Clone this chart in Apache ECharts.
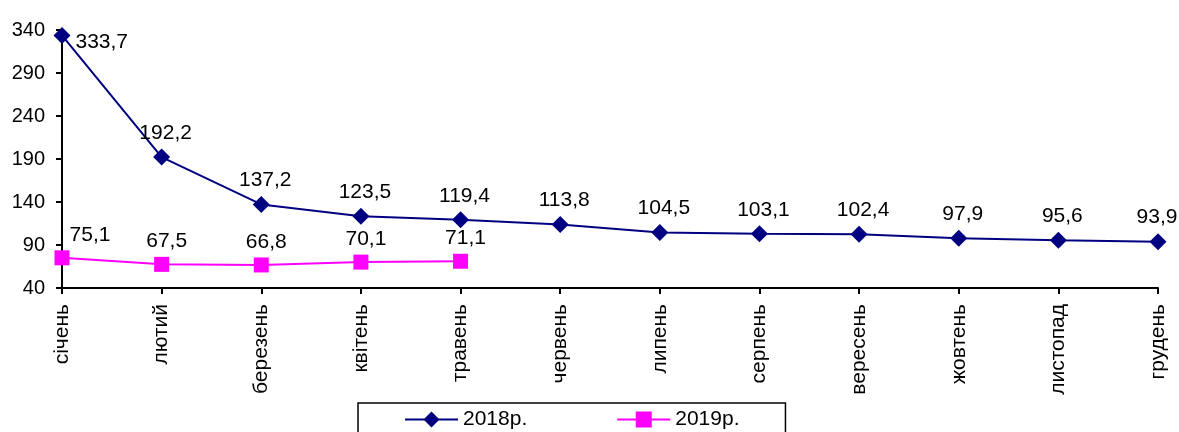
<!DOCTYPE html>
<html>
<head>
<meta charset="utf-8">
<script src="https://cdn.jsdelivr.net/npm/echarts@6/dist/echarts.min.js"></script>
<style>
  html, body { margin: 0; padding: 0; background: #fff; }
  #chart { width: 1179px; height: 432px; }
</style>
</head>
<body>
<div id="chart"></div>
<script>
const months = ["січень", "лютий", "березень", "квітень", "травень", "червень",
  "липень", "серпень", "вересень", "жовтень", "листопад", "грудень"];
const values2018 = [333.7, 192.2, 137.2, 123.5, 119.4, 113.8, 104.5, 103.1, 102.4, 97.9, 95.6, 93.9];
const values2019 = [75.1, 67.5, 66.8, 70.1, 71.1];
const seriesNames = ["2018р.", "2019р."];

const font = "Liberation Sans, Arial, sans-serif";
const fmt = p => String(p.value).replace(".", ",");

let chart = echarts.init(document.getElementById("chart"));

// a few labels sit off-centre in the original
let data2018 = values2018.map((v, i) => {
  if (i === 0) {
    return { value: v, label: { position: "right", offset: [0, 7] } };
  }
  if (i === values2018.length - 1) {
    return { value: v, label: { offset: [-1, 0] } };
  }
  return v;
});
let data2019 = values2019.map((v, i) => {
  if (i === 0) {
    return { value: v, label: { offset: [28, 0] } };
  }
  return v;
});

let option = {
  animation: false,
  textStyle: { fontFamily: font },
  grid: { left: 62, right: 21, top: 30, bottom: 144 },
  legend: {
    data: seriesNames,
    left: 358,
    top: 403,
    padding: [6, 46, 12, 46],
    itemGap: 89,
    itemWidth: 53,
    itemHeight: 20,
    borderColor: "#000",
    borderWidth: 1.5,
    textStyle: { fontSize: 21, color: "#000", fontFamily: font }
  },
  xAxis: {
    type: "category",
    data: months,
    boundaryGap: false,
    axisLine: { lineStyle: { color: "#000", width: 2 } },
    axisTick: { show: true, length: 6, lineStyle: { color: "#000", width: 2 } },
    axisLabel: { rotate: 90, fontSize: 21, color: "#000", margin: 16, interval: 0 }
  },
  yAxis: {
    type: "value",
    min: 40,
    max: 340,
    interval: 50,
    splitLine: { show: false },
    axisLine: { show: true, lineStyle: { color: "#000", width: 2 } },
    axisTick: { show: true, length: 6, lineStyle: { color: "#000", width: 2 } },
    axisLabel: { fontSize: 20, color: "#000", margin: 17 }
  },
  series: [
    {
      name: seriesNames[0],
      type: "line",
      data: data2018,
      symbol: "diamond",
      symbolSize: 17,
      itemStyle: { color: "#000080" },
      lineStyle: { color: "#000080", width: 2 },
      label: { show: true, position: "top", offset: [4, 0], fontSize: 21, color: "#000", formatter: fmt }
    },
    {
      name: seriesNames[1],
      type: "line",
      data: data2019,
      symbol: "rect",
      symbolSize: 15,
      itemStyle: { color: "#ff00ff" },
      lineStyle: { color: "#ff00ff", width: 2 },
      label: { show: true, position: "top", offset: [5, 0], fontSize: 21, color: "#000", formatter: fmt }
    }
  ]
};

chart.setOption(option);
</script>
</body>
</html>
